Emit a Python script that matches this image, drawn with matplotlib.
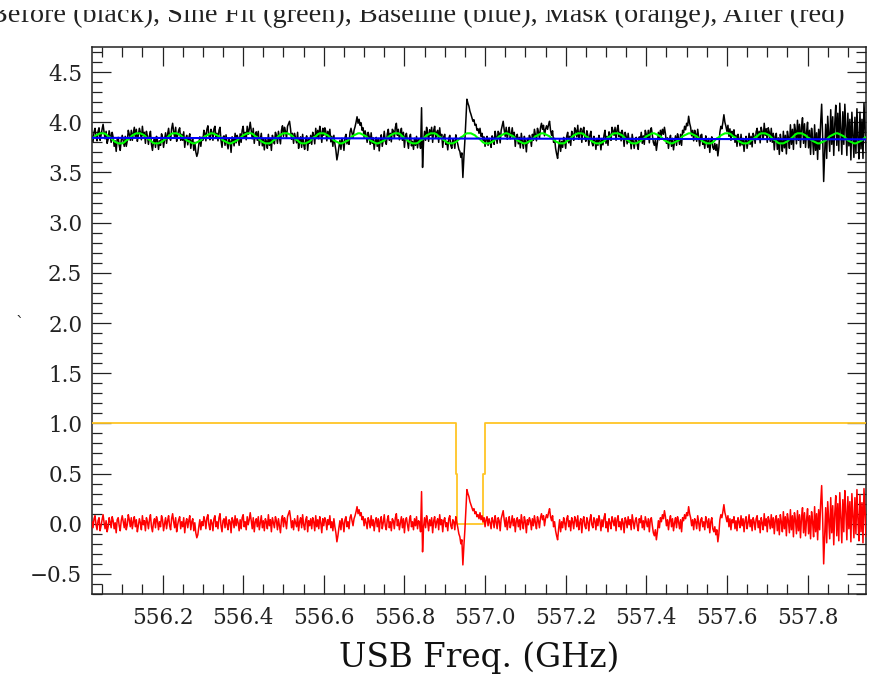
import numpy as np
import matplotlib.pyplot as plt
from matplotlib.ticker import MultipleLocator
from matplotlib.patches import Rectangle

# channels start at 556.025 GHz, 2.5 MHz apart
f_start = 556.025
f_step = 0.0025

# residual spectrum ("After")
after = [
    0.02, -0.04, 0.05, 0.08, -0.01, -0.06, 0.03, 0.06, -0.07, -0.02, 0.04, 0.09, 0.01, -0.05, 0.03, -0.08, -0.03, 0.06, 0.02, -0.04,
    0.07, 0.03, -0.05, 0.01, -0.09, 0.04, 0.06, -0.02, -0.07, 0.03, 0.08, 0.02, -0.04, 0.05, -0.06, -0.01, 0.09, 0.04, -0.03, 0.06,
    -0.05, 0.02, 0.07, -0.03, 0.04, -0.08, -0.02, 0.05, 0.01, -0.06, 0.08, -0.01, 0.03, -0.07, 0.06, 0.02, -0.05, 0.04, 0.09, -0.03,
    -0.08, 0.01, 0.05, -0.04, 0.07, 0.03, -0.06, 0.02, -0.03, 0.08, 0.04, -0.07, 0.00, 0.06, -0.05, 0.03, 0.08, -0.02, -0.06, 0.05,
    0.10, 0.02, -0.04, 0.06, -0.08, -0.01, 0.04, 0.07, -0.05, 0.02, -0.03, 0.06, -0.09, 0.01, 0.05, -0.04, 0.03, 0.08, -0.06, 0.02,
    0.05, -0.07, 0.01, -0.09, -0.14, -0.11, -0.03, 0.04, -0.06, 0.02, -0.02, 0.07, 0.03, -0.05, 0.06, 0.09, -0.01, -0.06, 0.04, 0.01,
    -0.07, 0.05, 0.08, -0.03, 0.02, -0.05, 0.06, 0.10, -0.02, -0.08, 0.03, 0.05, -0.04, 0.07, -0.01, -0.06, 0.04, 0.02, -0.09, 0.06,
    0.03, -0.04, 0.08, -0.02, 0.05, 0.01, -0.07, 0.04, -0.05, 0.06, 0.09, -0.03, 0.02, -0.06, 0.07, -0.01, 0.04, 0.11, 0.03, -0.05,
    0.06, -0.08, 0.02, 0.05, -0.03, 0.07, -0.06, 0.01, 0.08, -0.04, 0.03, -0.07, 0.05, 0.02, -0.05, 0.09, -0.02, 0.04, -0.08, 0.06,
    0.01, -0.04, 0.07, 0.03, -0.06, 0.05, -0.02, -0.09, 0.04, 0.08, -0.03, 0.06, 0.02, -0.05, 0.07, 0.10, 0.13, 0.06, -0.04, 0.03,
    -0.06, 0.05, 0.01, -0.03, 0.08, -0.07, 0.02, 0.06, -0.04, 0.09, -0.01, -0.06, 0.04, 0.07, -0.08, 0.03, -0.02, 0.05, -0.05, 0.06,
    0.02, -0.07, 0.08, -0.03, 0.04, -0.05, 0.07, 0.01, -0.09, 0.05, -0.02, 0.06, 0.03, -0.06, 0.04, -0.01, 0.08, -0.04, 0.02, -0.07,
    0.05, -0.03, -0.09, -0.18, -0.12, -0.04, 0.03, -0.06, 0.05, 0.01, -0.08, 0.04, 0.07, -0.03, 0.02, -0.05, 0.06, 0.09, 0.03, -0.02,
    0.05, 0.08, 0.12, 0.17, 0.10, 0.14, 0.08, 0.11, 0.04, 0.07, -0.02, 0.05, 0.01, -0.05, 0.06, 0.03, -0.04, 0.08, -0.02, 0.04,
    -0.07, 0.02, 0.06, -0.03, 0.05, -0.08, 0.03, 0.07, -0.05, 0.01, 0.09, -0.02, -0.06, 0.04, 0.08, -0.04, 0.02, -0.07, 0.05, 0.03,
    -0.05, 0.06, 0.10, -0.02, 0.04, -0.06, 0.01, 0.07, -0.04, 0.05, -0.09, 0.03, 0.06, -0.01, -0.07, 0.04, 0.08, -0.03, 0.02, -0.06,
    0.05, -0.02, 0.07, -0.05, 0.03, 0.01, -0.08, 0.32, -0.28, -0.03, 0.06, -0.04, 0.08, 0.02, -0.07, 0.04, -0.02, 0.06, -0.09, 0.03,
    0.07, -0.04, 0.02, 0.05, -0.06, 0.09, -0.01, 0.04, -0.08, 0.03, 0.06, -0.03, 0.01, -0.07, 0.05, 0.08, -0.02, -0.05, 0.04, 0.02,
    -0.06, 0.07, 0.01, -0.04, -0.10, -0.13, -0.20, -0.16, -0.41, -0.22, -0.06, 0.15, 0.34, 0.30, 0.27, 0.22, 0.19, 0.16, 0.13, 0.15,
    0.10, 0.12, 0.07, 0.09, 0.05, 0.11, 0.04, 0.08, 0.02, 0.06, -0.03, 0.04, 0.07, -0.02, 0.05, 0.01, -0.05, 0.06, 0.03, -0.04,
    0.08, 0.02, -0.05, 0.06, 0.03, -0.07, 0.05, 0.09, 0.13, 0.04, -0.03, 0.06, -0.06, 0.02, 0.07, -0.04, 0.01, 0.08, -0.02, 0.05,
    -0.08, 0.03, 0.06, -0.03, 0.04, -0.06, 0.09, 0.01, -0.05, 0.07, 0.02, -0.09, 0.04, -0.01, 0.06, 0.03, -0.06, 0.05, -0.02, 0.08,
    0.01, -0.05, 0.07, 0.03, -0.04, 0.06, 0.10, 0.04, 0.08, -0.02, 0.05, 0.09, 0.06, 0.11, 0.15, 0.07, 0.03, 0.08, -0.03, 0.02,
    -0.07, -0.12, -0.16, -0.05, 0.04, -0.08, 0.02, -0.04, 0.06, 0.01, -0.06, 0.05, 0.08, -0.03, 0.03, -0.07, 0.06, 0.02, -0.05, 0.07,
    0.04, -0.03, 0.08, -0.06, 0.01, 0.05, -0.09, 0.03, 0.07, -0.02, -0.05, 0.06, 0.02, -0.07, 0.04, 0.09, -0.01, -0.04, 0.06, 0.03,
    -0.06, 0.05, -0.02, 0.08, 0.03, -0.07, 0.04, -0.03, 0.06, 0.10, -0.04, 0.02, -0.08, 0.05, 0.01, -0.05, 0.07, 0.03, -0.02, 0.06,
    -0.07, 0.04, 0.08, -0.03, 0.02, -0.06, 0.05, 0.01, -0.09, 0.06, 0.03, -0.04, 0.07, -0.01, 0.04, -0.06, 0.09, 0.02, -0.05, 0.03,
    0.06, -0.02, -0.07, 0.05, 0.01, 0.08, -0.04, 0.03, -0.06, 0.07, 0.02, -0.03, 0.05, -0.08, 0.04, 0.06, -0.02, -0.09, -0.12, -0.06,
    -0.16, -0.08, 0.03, -0.04, 0.06, 0.02, 0.09, 0.05, 0.13, 0.07, -0.02, 0.04, -0.06, 0.03, 0.08, -0.03, 0.05, -0.07, 0.01, 0.06,
    -0.04, 0.07, 0.02, -0.05, 0.04, -0.08, 0.06, 0.03, 0.09, 0.05, 0.11, 0.08, 0.17, 0.10, 0.06, -0.02, 0.04, -0.06, 0.05, 0.02,
    -0.05, 0.08, 0.01, -0.07, 0.04, 0.06, -0.03, 0.02, -0.06, 0.07, 0.03, -0.04, 0.05, -0.09, 0.02, 0.06, -0.05, -0.08, -0.03, -0.11,
    -0.06, -0.18, -0.10, 0.04, 0.09, 0.06, 0.12, 0.19, 0.11, 0.07, 0.02, 0.08, -0.03, 0.05, -0.06, 0.04, 0.01, 0.07, -0.05, 0.03,
    -0.07, 0.06, 0.02, -0.04, 0.08, -0.02, 0.05, -0.08, 0.03, 0.07, -0.05, 0.01, 0.09, -0.03, 0.04, -0.07, 0.06, 0.02, -0.06, 0.05,
    0.08, -0.04, 0.03, -0.09, 0.06, 0.01, -0.06, 0.10, -0.02, 0.05, -0.08, 0.07, 0.03, -0.05, 0.09, -0.04, 0.06, -0.10, 0.04, 0.08,
    -0.07, 0.05, -0.11, 0.09, 0.02, -0.08, 0.12, -0.05, 0.07, -0.12, 0.10, 0.03, -0.09, 0.14, -0.06, 0.08, -0.13, 0.11, 0.04, -0.10,
    0.13, -0.07, 0.09, -0.14, 0.06, 0.16, -0.09, 0.11, -0.12, 0.04, 0.15, -0.10, 0.08, -0.15, 0.12, 0.02, -0.13, 0.17, -0.08, 0.10,
    -0.16, 0.14, -0.06, 0.20, 0.38, 0.05, -0.40, -0.12, 0.16, -0.19, 0.22, 0.04, -0.15, 0.26, -0.09, 0.18, -0.21, 0.10, 0.28, -0.12,
    0.20, -0.17, 0.31, 0.06, -0.19, 0.24, -0.08, 0.33, 0.12, -0.16, 0.27, -0.05, 0.22, -0.18, 0.30, 0.08, -0.14, 0.26, -0.10, 0.34,
    0.04, -0.17, 0.29, -0.08, 0.21, -0.19, 0.35, 0.10, -0.13, 0.27, -0.06, 0.24,
]

# standing-wave sine fit on the same channels
sine_fit = [
    3.84, 3.845, 3.85, 3.86, 3.87, 3.875, 3.88, 3.885, 3.89, 3.89, 3.89, 3.89, 3.89, 3.885, 3.88, 3.87, 3.86, 3.855, 3.85, 3.84,
    3.83, 3.82, 3.81, 3.805, 3.80, 3.795, 3.79, 3.79, 3.79, 3.79, 3.79, 3.795, 3.80, 3.81, 3.82, 3.825, 3.83, 3.84, 3.85, 3.86,
    3.87, 3.875, 3.88, 3.885, 3.89, 3.89, 3.89, 3.89, 3.89, 3.885, 3.88, 3.875, 3.87, 3.86, 3.85, 3.84, 3.83, 3.825, 3.82, 3.81,
    3.80, 3.795, 3.79, 3.79, 3.79, 3.79, 3.79, 3.795, 3.80, 3.805, 3.81, 3.82, 3.83, 3.835, 3.84, 3.85, 3.86, 3.87, 3.88, 3.885,
    3.89, 3.89, 3.89, 3.89, 3.89, 3.885, 3.88, 3.875, 3.87, 3.86, 3.85, 3.845, 3.84, 3.83, 3.82, 3.815, 3.81, 3.805, 3.80, 3.795,
    3.79, 3.79, 3.79, 3.795, 3.80, 3.805, 3.81, 3.815, 3.82, 3.83, 3.84, 3.85, 3.86, 3.865, 3.87, 3.875, 3.88, 3.885, 3.89, 3.89,
    3.89, 3.885, 3.88, 3.875, 3.87, 3.865, 3.86, 3.85, 3.84, 3.83, 3.82, 3.815, 3.81, 3.805, 3.80, 3.795, 3.79, 3.79, 3.79, 3.795,
    3.80, 3.805, 3.81, 3.815, 3.82, 3.83, 3.84, 3.845, 3.85, 3.86, 3.87, 3.875, 3.88, 3.885, 3.89, 3.89, 3.89, 3.89, 3.89, 3.885,
    3.88, 3.87, 3.86, 3.855, 3.85, 3.84, 3.83, 3.82, 3.81, 3.805, 3.80, 3.795, 3.79, 3.79, 3.79, 3.79, 3.79, 3.795, 3.80, 3.81,
    3.82, 3.825, 3.83, 3.84, 3.85, 3.86, 3.87, 3.875, 3.88, 3.885, 3.89, 3.89, 3.89, 3.89, 3.89, 3.885, 3.88, 3.875, 3.87, 3.86,
    3.85, 3.84, 3.83, 3.825, 3.82, 3.81, 3.80, 3.795, 3.79, 3.79, 3.79, 3.79, 3.79, 3.795, 3.80, 3.805, 3.81, 3.82, 3.83, 3.84,
    3.85, 3.855, 3.86, 3.87, 3.88, 3.885, 3.89, 3.89, 3.89, 3.89, 3.89, 3.885, 3.88, 3.875, 3.87, 3.86, 3.85, 3.845, 3.84, 3.83,
    3.82, 3.815, 3.81, 3.805, 3.80, 3.795, 3.79, 3.79, 3.79, 3.795, 3.80, 3.805, 3.81, 3.815, 3.82, 3.83, 3.84, 3.85, 3.86, 3.865,
    3.87, 3.875, 3.88, 3.885, 3.89, 3.89, 3.89, 3.885, 3.88, 3.875, 3.87, 3.865, 3.86, 3.85, 3.84, 3.83, 3.82, 3.815, 3.81, 3.805,
    3.80, 3.795, 3.79, 3.79, 3.79, 3.795, 3.80, 3.805, 3.81, 3.815, 3.82, 3.83, 3.84, 3.845, 3.85, 3.86, 3.87, 3.875, 3.88, 3.885,
    3.89, 3.89, 3.89, 3.89, 3.89, 3.885, 3.88, 3.87, 3.86, 3.85, 3.84, 3.835, 3.83, 3.82, 3.81, 3.805, 3.80, 3.795, 3.79, 3.79,
    3.79, 3.79, 3.79, 3.795, 3.80, 3.81, 3.82, 3.825, 3.83, 3.84, 3.85, 3.86, 3.87, 3.875, 3.88, 3.885, 3.89, 3.89, 3.89, 3.89,
    3.89, 3.885, 3.88, 3.87, 3.86, 3.855, 3.85, 3.84, 3.83, 3.825, 3.82, 3.81, 3.80, 3.795, 3.79, 3.79, 3.79, 3.79, 3.79, 3.795,
    3.80, 3.805, 3.81, 3.82, 3.83, 3.84, 3.85, 3.855, 3.86, 3.87, 3.88, 3.885, 3.89, 3.89, 3.89, 3.89, 3.89, 3.885, 3.88, 3.875,
    3.87, 3.86, 3.85, 3.845, 3.84, 3.83, 3.82, 3.81, 3.80, 3.795, 3.79, 3.79, 3.79, 3.79, 3.79, 3.795, 3.80, 3.805, 3.81, 3.82,
    3.83, 3.835, 3.84, 3.85, 3.86, 3.865, 3.87, 3.875, 3.88, 3.885, 3.89, 3.89, 3.89, 3.885, 3.88, 3.875, 3.87, 3.865, 3.86, 3.85,
    3.84, 3.83, 3.82, 3.815, 3.81, 3.805, 3.80, 3.795, 3.79, 3.79, 3.79, 3.795, 3.80, 3.805, 3.81, 3.815, 3.82, 3.83, 3.84, 3.85,
    3.86, 3.865, 3.87, 3.875, 3.88, 3.885, 3.89, 3.89, 3.89, 3.885, 3.88, 3.875, 3.87, 3.865, 3.86, 3.85, 3.84, 3.835, 3.83, 3.82,
    3.81, 3.805, 3.80, 3.795, 3.79, 3.79, 3.79, 3.79, 3.79, 3.795, 3.80, 3.81, 3.82, 3.825, 3.83, 3.84, 3.85, 3.86, 3.87, 3.875,
    3.88, 3.885, 3.89, 3.89, 3.89, 3.89, 3.89, 3.885, 3.88, 3.87, 3.86, 3.855, 3.85, 3.84, 3.83, 3.82, 3.81, 3.805, 3.80, 3.795,
    3.79, 3.79, 3.79, 3.79, 3.79, 3.795, 3.80, 3.805, 3.81, 3.82, 3.83, 3.84, 3.85, 3.855, 3.86, 3.87, 3.88, 3.885, 3.89, 3.89,
    3.89, 3.89, 3.89, 3.885, 3.88, 3.875, 3.87, 3.86, 3.85, 3.84, 3.83, 3.825, 3.82, 3.81, 3.80, 3.795, 3.79, 3.79, 3.79, 3.79,
    3.79, 3.795, 3.80, 3.805, 3.81, 3.82, 3.83, 3.835, 3.84, 3.85, 3.86, 3.865, 3.87, 3.875, 3.88, 3.885, 3.89, 3.89, 3.89, 3.885,
    3.88, 3.875, 3.87, 3.865, 3.86, 3.85, 3.84, 3.83, 3.82, 3.815, 3.81, 3.805, 3.80, 3.795, 3.79, 3.79, 3.79, 3.795, 3.80, 3.805,
    3.81, 3.815, 3.82, 3.83, 3.84, 3.85, 3.86, 3.865, 3.87, 3.875, 3.88, 3.885, 3.89, 3.89, 3.89, 3.885, 3.88, 3.875, 3.87, 3.865,
    3.86, 3.85, 3.84, 3.835, 3.83, 3.82, 3.81, 3.805, 3.80, 3.795, 3.79, 3.79, 3.79, 3.79, 3.79, 3.795, 3.80, 3.81, 3.82, 3.83,
    3.84, 3.845, 3.85, 3.86, 3.87, 3.875, 3.88, 3.885, 3.89, 3.89, 3.89, 3.89, 3.89, 3.885, 3.88, 3.87, 3.86, 3.855, 3.85, 3.84,
    3.83, 3.82, 3.81, 3.805, 3.80, 3.795, 3.79, 3.79, 3.79, 3.79, 3.79, 3.795, 3.80, 3.81, 3.82, 3.825, 3.83, 3.84, 3.85, 3.855,
    3.86, 3.87, 3.88, 3.885, 3.89, 3.89, 3.89, 3.89, 3.89, 3.885, 3.88, 3.875, 3.87, 3.86, 3.85, 3.84, 3.83, 3.825, 3.82, 3.81,
    3.80, 3.795, 3.79, 3.79, 3.79, 3.79, 3.79, 3.795, 3.80, 3.805, 3.81, 3.82, 3.83, 3.835, 3.84, 3.85, 3.86, 3.87, 3.88, 3.885,
    3.89, 3.89, 3.89, 3.89, 3.89, 3.885, 3.88, 3.875, 3.87, 3.86, 3.85, 3.845, 3.84, 3.83, 3.82, 3.815, 3.81, 3.805, 3.80, 3.795,
    3.79, 3.79, 3.79, 3.795, 3.80, 3.805, 3.81, 3.815, 3.82, 3.83, 3.84, 3.85, 3.86, 3.865, 3.87, 3.875, 3.88, 3.885, 3.89, 3.89,
    3.89, 3.885, 3.88, 3.875, 3.87, 3.865, 3.86, 3.85, 3.84, 3.83, 3.82, 3.815, 3.81, 3.805, 3.80, 3.795, 3.79, 3.79, 3.79, 3.795,
    3.80, 3.805, 3.81, 3.815, 3.82, 3.83, 3.84, 3.845, 3.85, 3.86, 3.87, 3.875,
]

# linear baseline
baseline_freq = [556.02, 557.955]
baseline = [3.845, 3.83]

# line mask (0 = masked channels)
mask_freq = [556.02, 556.928, 556.928, 556.931, 556.931, 556.996, 556.996, 557.0, 557.0, 557.955]
mask = [1, 1, 0.5, 0.5, 0, 0, 0.5, 0.5, 1, 1]

freq = f_start + f_step * np.arange(len(after))
before = np.array(after) + np.array(sine_fit)

W, H = 869, 674
fig = plt.figure(figsize=(W / 100, H / 100), dpi=100)
ax = fig.add_axes([92 / W, 80 / H, 774 / W, 547 / H])

ax.plot(freq, before, color='black', lw=1.1, zorder=2)
ax.plot(freq, sine_fit, color='#00ff00', lw=1.5, zorder=3)
ax.plot(baseline_freq, baseline, color='#0000ff', lw=1.5, zorder=4)
ax.plot(mask_freq, mask, color='#ffc525', lw=1.3, zorder=4)
ax.plot(freq, after, color='red', lw=1.1, zorder=5)

ax.set_xlim(556.025, 557.945)
ax.set_ylim(-0.7, 4.75)
ax.xaxis.set_major_locator(MultipleLocator(0.2))
ax.xaxis.set_minor_locator(MultipleLocator(0.05))
ax.yaxis.set_major_locator(MultipleLocator(0.5))
ax.yaxis.set_minor_locator(MultipleLocator(0.1))
ax.xaxis.set_major_formatter(plt.FormatStrFormatter('%.1f'))
ax.yaxis.set_major_formatter(plt.FuncFormatter(lambda v, p: ('%.1f' % v).replace('-', '\u2212')))

frame = '#222222'
for s in ax.spines.values():
    s.set_color(frame)
    s.set_linewidth(1.1)
ax.tick_params(which='both', direction='in', top=True, right=True, color=frame, width=0.9)
ax.tick_params(which='major', length=13.5)
ax.tick_params(which='minor', length=7)
ax.tick_params(axis='x', which='major', pad=9)
ax.tick_params(axis='y', which='major', pad=7)
for lab in ax.get_xticklabels() + ax.get_yticklabels():
    lab.set_fontfamily('DejaVu Serif')
    lab.set_fontsize(15.5)
    lab.set_color('#222222')

ax.set_xlabel('USB Freq. (GHz)', family='DejaVu Serif', fontsize=23.5, color='#111111', labelpad=9)

fig.text(845 / W, 1 - 22 / H, 'Before (black), Sine Fit (green), Baseline (blue), Mask (orange), After (red)',
         family='Liberation Serif', fontsize=20.3, ha='right', va='baseline', color='#222222')
# top strip of the page is blank
fig.patches.append(Rectangle((0, 1 - 9.5 / H), 1, 9.5 / H, transform=fig.transFigure,
                             facecolor='white', edgecolor='none', zorder=10))
fig.text(20 / W, 1 - 323 / H, '`', family='DejaVu Serif', fontsize=12, ha='center', va='center', color='#222222')

fig.savefig('out.png', dpi=100)
